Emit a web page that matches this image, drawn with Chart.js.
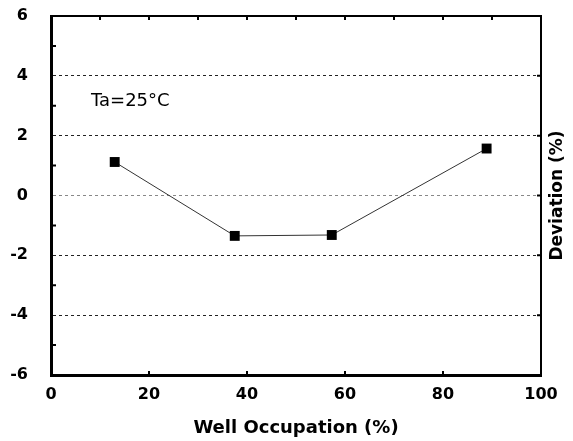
<!DOCTYPE html>
<html>
<head>
<meta charset="utf-8">
<script src="https://cdn.jsdelivr.net/npm/chart.js@4"></script>
<style>
html, body { margin: 0; background: #fff; }
</style>
</head>
<body>
<canvas id="chart" width="573" height="441"></canvas>
<script>
// data
const occupation = [13, 37.5, 57.3, 88.9];
const deviation = [1.12, -1.35, -1.32, 1.57];

// tick values
const xTicks = [0, 20, 40, 60, 80, 100];
const yTicks = [-6, -4, -2, 0, 2, 4, 6];
const yMinorTicks = [-5, -3, -1, 1, 3, 5];
const yRightTicks = [-4, -2, 0, 2, 4];
const xTopTicks = [10, 20, 30, 40, 50, 60, 70, 80, 90];
const xBottomTicks = [20, 40, 60, 80];

const FONT = '"DejaVu Sans", Verdana, sans-serif';

// frame, inward ticks and extra texts
const framePlugin = {
    id: 'frame',
    afterDraw(chart) {
        const { ctx, chartArea: a, scales: { x, y } } = chart;
        ctx.save();
        ctx.strokeStyle = '#000';
        ctx.lineWidth = 2;
        ctx.beginPath();
        ctx.moveTo(a.left, a.top);
        ctx.lineTo(a.right, a.top);
        ctx.lineTo(a.right, a.bottom);
        ctx.stroke();

        ctx.beginPath();
        yMinorTicks.forEach(v => {
            const py = y.getPixelForValue(v);
            ctx.moveTo(a.left, py);
            ctx.lineTo(a.left + 5, py);
        });
        yRightTicks.forEach(v => {
            const py = y.getPixelForValue(v);
            ctx.moveTo(a.right, py);
            ctx.lineTo(a.right - 4, py);
        });
        xTopTicks.forEach(v => {
            const px = x.getPixelForValue(v);
            ctx.moveTo(px, a.top);
            ctx.lineTo(px, a.top + 4);
        });
        xBottomTicks.forEach(v => {
            const px = x.getPixelForValue(v);
            ctx.moveTo(px, a.bottom);
            ctx.lineTo(px, a.bottom - 4);
        });
        ctx.stroke();

        // temperature label
        ctx.fillStyle = '#000';
        ctx.font = '18px ' + FONT;
        ctx.textBaseline = 'middle';
        ctx.textAlign = 'left';
        ctx.fillText('Ta=25°C', a.left + 40, y.getPixelForValue(3.15));

        // right side axis title
        ctx.translate(a.right + 17, (a.top + a.bottom) / 2);
        ctx.rotate(-Math.PI / 2);
        ctx.textAlign = 'center';
        ctx.font = 'bold 17px ' + FONT;
        ctx.fillText('Deviation (%)', 0, 0);
        ctx.restore();
    }
};

const points = occupation.map((v, i) => ({ x: v, y: deviation[i] }));

new Chart(document.getElementById('chart'), {
    type: 'scatter',
    data: {
        datasets: [{
            data: points,
            showLine: true,
            borderColor: '#333',
            borderWidth: 1,
            pointStyle: 'rect',
            pointRadius: 7,
            pointHoverRadius: 7,
            pointBackgroundColor: '#000',
            pointBorderWidth: 0
        }]
    },
    options: {
        responsive: false,
        animation: false,
        layout: { padding: { top: 16, right: 32, left: 0, bottom: 0 } },
        plugins: {
            legend: { display: false },
            tooltip: { enabled: false }
        },
        scales: {
            x: {
                type: 'linear',
                min: 0,
                max: 100,
                afterBuildTicks: s => { s.ticks = xTicks.map(v => ({ value: v })); },
                afterFit: s => { s.height = 66; },
                grid: { display: false, drawTicks: false },
                border: { display: true, width: 3, color: '#000' },
                ticks: {
                    color: '#000',
                    padding: 10,
                    maxRotation: 0,
                    font: { family: FONT, size: 16, weight: 'bold' }
                },
                title: {
                    display: true,
                    text: 'Well Occupation (%)',
                    color: '#000',
                    padding: { top: 4, bottom: 2 },
                    font: { family: FONT, size: 18, weight: 'bold' }
                }
            },
            y: {
                min: -6,
                max: 6,
                afterBuildTicks: s => { s.ticks = yTicks.map(v => ({ value: v })); },
                afterFit: s => {
                    s.width = 51;
                    s.paddingTop = 0;
                    s.paddingBottom = 0;
                },
                grid: {
                    drawTicks: false,
                    lineWidth: 1,
                    color: c => {
                        const v = c.tick ? c.tick.value : 0;
                        if (v === 6 || v === -6) return 'rgba(0,0,0,0)';
                        return v === 0 ? '#888' : '#222';
                    }
                },
                border: { display: true, width: 3, color: '#000', dash: [3, 3] },
                ticks: {
                    color: '#000',
                    padding: 23,
                    font: { family: FONT, size: 16, weight: 'bold' }
                }
            }
        }
    },
    plugins: [framePlugin]
});
</script>
</body>
</html>
